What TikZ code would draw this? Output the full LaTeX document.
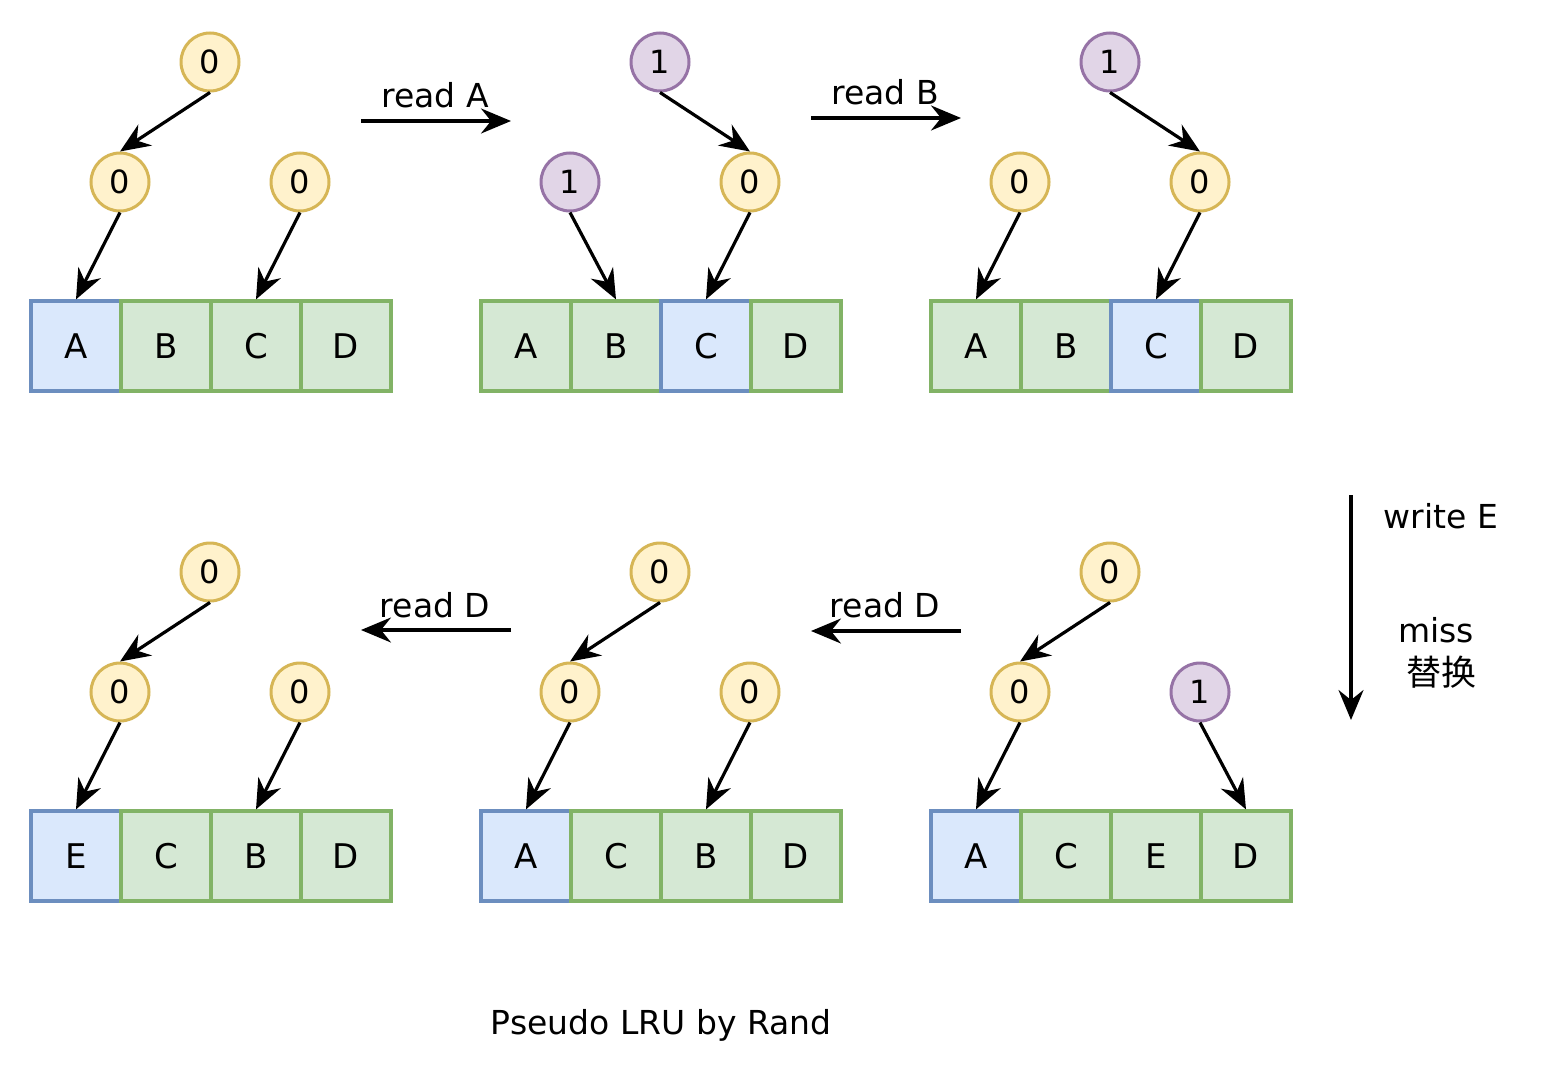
\documentclass[tikz,border=0pt]{standalone}
\usepackage{fontspec}
\setmainfont{DejaVu Sans}
\newfontfamily\cjk{Noto Sans CJK SC}
\usetikzlibrary{arrows.meta}
\definecolor{yfill}{HTML}{FFF2CC}
\definecolor{ystroke}{HTML}{D6B656}
\definecolor{pfill}{HTML}{E1D5E7}
\definecolor{pstroke}{HTML}{9673A6}
\definecolor{bfill}{HTML}{DAE8FC}
\definecolor{bstroke}{HTML}{6C8EBF}
\definecolor{gfill}{HTML}{D5E8D4}
\definecolor{gstroke}{HTML}{82B366}
\tikzset{
  yc/.style={circle, draw=ystroke, fill=yfill, line width=3pt, minimum size=58pt, inner sep=0pt, font=\fontsize{32}{32}\selectfont},
  pc/.style={circle, draw=pstroke, fill=pfill, line width=3pt, minimum size=58pt, inner sep=0pt, font=\fontsize{32}{32}\selectfont},
  bcell/.style={rectangle, draw=bstroke, fill=bfill, line width=3.2pt, minimum width=90pt, minimum height=90pt, inner sep=0pt, font=\fontsize{34}{34}\selectfont},
  gcell/.style={rectangle, draw=gstroke, fill=gfill, line width=3.2pt, minimum width=90pt, minimum height=90pt, inner sep=0pt, font=\fontsize{34}{34}\selectfont},
  arr/.style={line width=3.2pt, -{Stealth[length=30pt,width=25pt,inset=10pt]}},
  lbl/.style={font=\fontsize{33}{33}\selectfont, inner sep=0pt}
}
\begin{document}
\begin{tikzpicture}[x=1pt,y=-1pt]
\useasboundingbox[fill=white] (0,0) rectangle (1566,1086);

% ---------- Panel 1 (top left)
\node[bcell] (p1a) at (76,346) {A};
\node[gcell] (p1b) at (166,346) {B};
\node[gcell] (p1c) at (256,346) {C};
\node[gcell] (p1d) at (346,346) {D};
\node[yc] (p1r) at (210,62) {0};
\node[yc] (p1l) at (120,182) {0};
\node[yc] (p1g) at (300,182) {0};
\draw[arr] (p1r.south) -- (p1l.north);
\draw[arr] (p1l.south) -- (p1a.north);
\draw[arr] (p1g.south) -- (p1c.north);

% ---------- Panel 2 (top middle)
\node[gcell] (p2a) at (526,346) {A};
\node[gcell] (p2b) at (616,346) {B};
\node[bcell] (p2c) at (706,346) {C};
\node[gcell] (p2d) at (796,346) {D};
\node[pc] (p2r) at (660,62) {1};
\node[pc] (p2l) at (570,182) {1};
\node[yc] (p2g) at (750,182) {0};
\draw[arr] (p2r.south) -- (p2g.north);
\draw[arr] (p2l.south) -- (p2b.north);
\draw[arr] (p2g.south) -- (p2c.north);

% ---------- Panel 3 (top right)
\node[gcell] (p3a) at (976,346) {A};
\node[gcell] (p3b) at (1066,346) {B};
\node[bcell] (p3c) at (1156,346) {C};
\node[gcell] (p3d) at (1246,346) {D};
\node[pc] (p3r) at (1110,62) {1};
\node[yc] (p3l) at (1020,182) {0};
\node[yc] (p3g) at (1200,182) {0};
\draw[arr] (p3r.south) -- (p3g.north);
\draw[arr] (p3l.south) -- (p3a.north);
\draw[arr] (p3g.south) -- (p3c.north);

% ---------- Panel 4 (bottom right)
\node[bcell] (p4a) at (976,856) {A};
\node[gcell] (p4b) at (1066,856) {C};
\node[gcell] (p4c) at (1156,856) {E};
\node[gcell] (p4d) at (1246,856) {D};
\node[yc] (p4r) at (1110,572) {0};
\node[yc] (p4l) at (1020,692) {0};
\node[pc] (p4g) at (1200,692) {1};
\draw[arr] (p4r.south) -- (p4l.north);
\draw[arr] (p4l.south) -- (p4a.north);
\draw[arr] (p4g.south) -- (p4d.north);

% ---------- Panel 5 (bottom middle)
\node[bcell] (p5a) at (526,856) {A};
\node[gcell] (p5b) at (616,856) {C};
\node[gcell] (p5c) at (706,856) {B};
\node[gcell] (p5d) at (796,856) {D};
\node[yc] (p5r) at (660,572) {0};
\node[yc] (p5l) at (570,692) {0};
\node[yc] (p5g) at (750,692) {0};
\draw[arr] (p5r.south) -- (p5l.north);
\draw[arr] (p5l.south) -- (p5a.north);
\draw[arr] (p5g.south) -- (p5c.north);

% ---------- Panel 6 (bottom left)
\node[bcell] (p6a) at (76,856) {E};
\node[gcell] (p6b) at (166,856) {C};
\node[gcell] (p6c) at (256,856) {B};
\node[gcell] (p6d) at (346,856) {D};
\node[yc] (p6r) at (210,572) {0};
\node[yc] (p6l) at (120,692) {0};
\node[yc] (p6g) at (300,692) {0};
\draw[arr] (p6r.south) -- (p6l.north);
\draw[arr] (p6l.south) -- (p6a.north);
\draw[arr] (p6g.south) -- (p6c.north);

% ---------- Transitions
\coordinate (t1s) at (361,121); \coordinate (t1e) at (511,121);
\draw[arr] (t1s) -- (t1e);
\node[lbl] (t1l) at (435,95) {read A};

\coordinate (t2s) at (811,118); \coordinate (t2e) at (961,118);
\draw[arr] (t2s) -- (t2e);
\node[lbl] (t2l) at (885,92) {read B};

\coordinate (t3s) at (1351,495); \coordinate (t3e) at (1351,720);
\draw[arr] (t3s) -- (t3e);
\node[lbl] (t3l) at (1441,516) {write E};
\node[lbl] (t3m) at (1436,630) {miss};
\node[lbl, font=\cjk\fontsize{35}{35}\selectfont] (t3c) at (1441,672) {替换};

\coordinate (t4s) at (961,631); \coordinate (t4e) at (811,631);
\draw[arr] (t4s) -- (t4e);
\node[lbl] (t4l) at (885,605) {read D};

\coordinate (t5s) at (511,630); \coordinate (t5e) at (361,630);
\draw[arr] (t5s) -- (t5e);
\node[lbl] (t5l) at (435,605) {read D};

\node[lbl] (title) at (661,1025) {Pseudo LRU by Rand};
\end{tikzpicture}
\end{document}
